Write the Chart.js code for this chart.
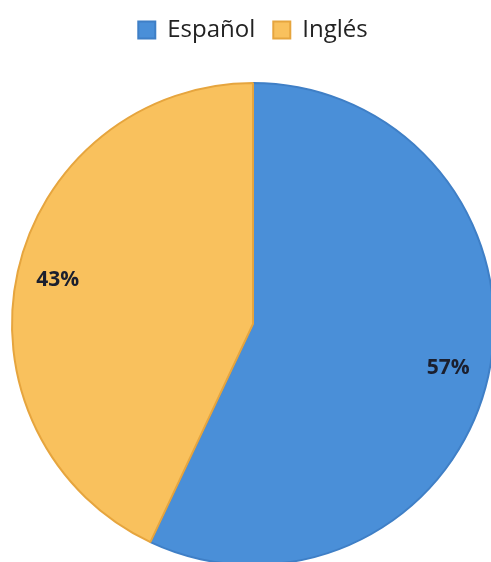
<!DOCTYPE html>
<html>
<head>
<meta charset="utf-8">
<script src="https://cdn.jsdelivr.net/npm/chart.js@4"></script>
<style>
  html, body { margin: 0; padding: 0; background: #fff; overflow: hidden; }
  #wrap { position: absolute; left: 0; top: 0; width: 506px; height: 596px; }
</style>
</head>
<body>
<div id="wrap"><canvas id="idiomaChart"></canvas></div>
<script>
// Datos del gráfico
const categorias = ['Español', 'Inglés'];
const porcentajes = [57, 43];
const colores = ['#4a8fd8', '#f9c15d'];
const bordes = ['#3f7fc6', '#e6a53e'];

// Etiquetas de porcentaje dentro de cada porción
const etiquetasPorcentaje = {
    id: 'etiquetasPorcentaje',
    afterDatasetsDraw(chart) {
        const ctx = chart.ctx;
        const meta = chart.getDatasetMeta(0);
        ctx.save();
        ctx.font = 'bold 21px "Open Sans", sans-serif';
        ctx.fillStyle = '#1b1f2e';
        ctx.textAlign = 'center';
        ctx.textBaseline = 'middle';
        meta.data.forEach((arc, i) => {
            const mid = (arc.startAngle + arc.endAngle) / 2;
            const r = arc.outerRadius * 0.83;
            ctx.fillText(porcentajes[i] + '%', arc.x + Math.cos(mid) * r, arc.y + Math.sin(mid) * r);
        });
        ctx.restore();
    }
};

const ctxIdioma = document.getElementById('idiomaChart').getContext('2d');
new Chart(ctxIdioma, {
    type: 'pie',
    data: {
        labels: categorias,
        datasets: [{
            data: porcentajes,
            backgroundColor: colores,
            borderColor: bordes,
            borderWidth: 2,
            radius: 241
        }]
    },
    options: {
        responsive: true,
        maintainAspectRatio: false,
        animation: false,
        layout: { padding: 0 },
        plugins: {
            legend: {
                position: 'top',
                labels: {
                    font: { family: '"Open Sans", sans-serif', size: 24 },
                    color: '#222',
                    boxWidth: 17,
                    boxHeight: 17,
                    padding: 18
                }
            },
            tooltip: { enabled: false }
        }
    },
    plugins: [etiquetasPorcentaje]
});
</script>
</body>
</html>
